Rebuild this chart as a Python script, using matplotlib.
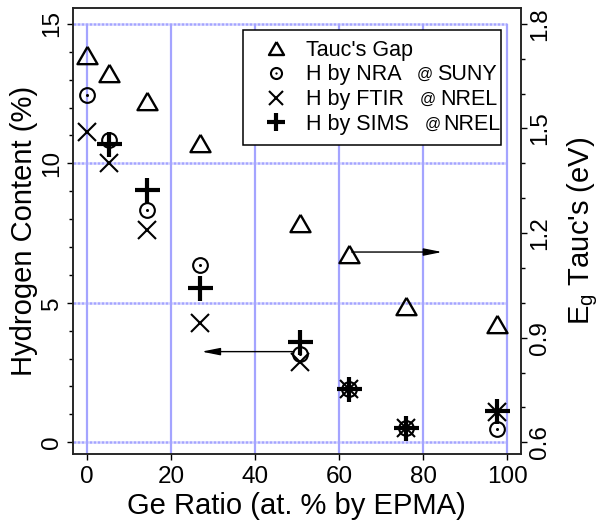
import matplotlib
matplotlib.use('Agg')
import matplotlib.pyplot as plt
from matplotlib.ticker import MultipleLocator, FixedLocator

plt.rcParams['font.family'] = ['Liberation Sans', 'DejaVu Sans']
plt.rcParams['mathtext.default'] = 'regular'

# ---- data ----
ge_ratio = [0, 5.3, 14.2, 27.0, 50.6, 62.3, 76.0, 97.6]
tauc_gap = [1.712, 1.659, 1.578, 1.458, 1.229, 1.140, 0.990, 0.940]
h_nra = [12.44, 10.85, 8.34, 6.36, 3.17, 1.90, 0.50, 0.47]
h_ftir = [11.14, 10.01, 7.62, 4.29, 2.89, 1.90, 0.50, 1.10]
sims_ge = [5.3, 14.2, 27.0, 50.6, 62.3, 76.0, 97.6]
h_sims = [10.70, 9.03, 5.52, 3.61, 1.90, 0.50, 1.12]

x_ticks = [0, 20, 40, 60, 80, 100]
h_ticks = [0, 5, 10, 15]
eg_ticks = [0.6, 0.9, 1.2, 1.5, 1.8]

labels = ["Tauc's Gap", "H by NRA", "H by FTIR", "H by SIMS"]
sites = ["", "SUNY", "NREL", "NREL"]

xlim = (-3.3, 103.2)
hlim = (-0.43, 15.57)
# Eg axis aligned: 0.6 eV <-> 0 %, 1.8 eV <-> 15 %
eg_lim = (0.6 + 0.08 * hlim[0], 0.6 + 0.08 * hlim[1])

fig = plt.figure(figsize=(5.99, 5.27), dpi=100)
ax = fig.add_axes([0.1219, 0.138, 0.7474, 0.8469])
ax2 = ax.twinx()

ax.set_xlim(*xlim)
ax.set_ylim(*hlim)
ax2.set_ylim(*eg_lim)

gcol = '#a4a4ff'
ax.vlines(x_ticks, hlim[0], 15, colors=gcol, lw=1.6, zorder=0)
ax.hlines(h_ticks, xlim[0], 100, colors=gcol, lw=1.8, linestyles=(0, (1.2, 0.4)), zorder=0)

tri = [(0, 0.433), (-0.5, -0.433), (0.5, -0.433), (0, 0.433)]

l_tri, = ax2.plot(ge_ratio, tauc_gap, ls='none', marker=tri, ms=14.4,
                  mfc='none', mec='black', mew=1.7)
l_circ, = ax.plot(ge_ratio, h_nra, ls='none', marker='o', ms=10.6,
                  mfc='none', mec='black', mew=1.5)
l_dot, = ax.plot(ge_ratio, h_nra, ls='none', marker='o', ms=2.2,
                 mfc='black', mec='black', mew=0)
l_x, = ax.plot(ge_ratio, h_ftir, ls='none', marker='x', ms=13,
               mec='black', mew=1.5)
l_plus, = ax.plot(sims_ge, h_sims, ls='none', marker='+', ms=18,
                  mec='black', mew=3)

# arrows
for start, end in [((49.1, 3.25), (27.3, 3.25)), ((63.0, 6.82), (84.5, 6.82))]:
    ax.annotate('', xy=end, xytext=start,
                arrowprops=dict(arrowstyle='-|>,head_length=1.1,head_width=0.22',
                                color='black', lw=1.0, mutation_scale=10,
                                shrinkA=0, shrinkB=0))

# ticks
ax.xaxis.set_major_locator(FixedLocator(x_ticks))
ax.yaxis.set_major_locator(FixedLocator(h_ticks))
ax.yaxis.set_minor_locator(MultipleLocator(1))
ax2.yaxis.set_major_locator(FixedLocator(eg_ticks))
ax2.yaxis.set_minor_locator(MultipleLocator(0.1))
ax2.set_yticklabels([f'{v:.1f}' for v in eg_ticks])

tfs = 17.5
ax.tick_params(axis='x', which='major', direction='out', length=4.3, width=1.0,
               labelsize=tfs, pad=4, top=False)
ax.tick_params(axis='y', which='major', direction='out', length=4.3, width=1.0,
               labelsize=tfs, labelrotation=90, pad=3, right=False)
ax.tick_params(axis='y', which='minor', direction='out', length=2.7, width=1.0, right=False)
ax2.tick_params(axis='y', which='major', direction='out', length=4.3, width=1.0,
                labelsize=tfs, labelrotation=90, pad=2)
ax2.tick_params(axis='y', which='minor', direction='out', length=2.7, width=1.0)
for lab in ax.get_yticklabels():
    lab.set_va('center')
for lab in ax2.get_yticklabels():
    lab.set_va('center')

for a in (ax, ax2):
    for s in a.spines.values():
        s.set_linewidth(1.1)
        s.set_color('#222222')

ax.set_xlabel('Ge Ratio (at. % by EPMA)', fontsize=21, labelpad=3)
ax.set_ylabel('Hydrogen Content (%)', fontsize=21, labelpad=2)
ax2.set_ylabel(r"$E_g$ Tauc's (eV)", fontsize=21, labelpad=10)

lfs = 15.5
leg = ax.legend([l_tri, (l_circ, l_dot), l_x, l_plus], labels,
                loc='upper left', bbox_to_anchor=(0.3808, 0.5, 0.5752, 0.4507),
                mode='expand', borderaxespad=0, fontsize=lfs, frameon=True,
                fancybox=False, edgecolor='black', framealpha=1, markerscale=0.75,
                handlelength=2.1, handletextpad=0.35, labelspacing=0.175,
                borderpad=0.45)
leg.get_frame().set_linewidth(1.1)
leg.set_zorder(5)

# "@ site" suffixes in the legend rows (small "@", normal-size site name)
at_x = [None, 0.7677, 0.7748, 0.7846]
site_x = [None, 0.8124, 0.8197, 0.8271]
for txt, s, ax_at, ax_site in zip(leg.get_texts(), sites, at_x, site_x):
    if not s:
        continue
    ax.annotate('@', xy=(ax_at, 0.16), xycoords=(ax.transAxes, txt),
                fontsize=lfs * 0.74, va='bottom', ha='left', zorder=6)
    ax.annotate(s, xy=(ax_site, 0), xycoords=(ax.transAxes, txt),
                fontsize=lfs, va='bottom', ha='left', zorder=6)

fig.savefig('out.png', dpi=100)
